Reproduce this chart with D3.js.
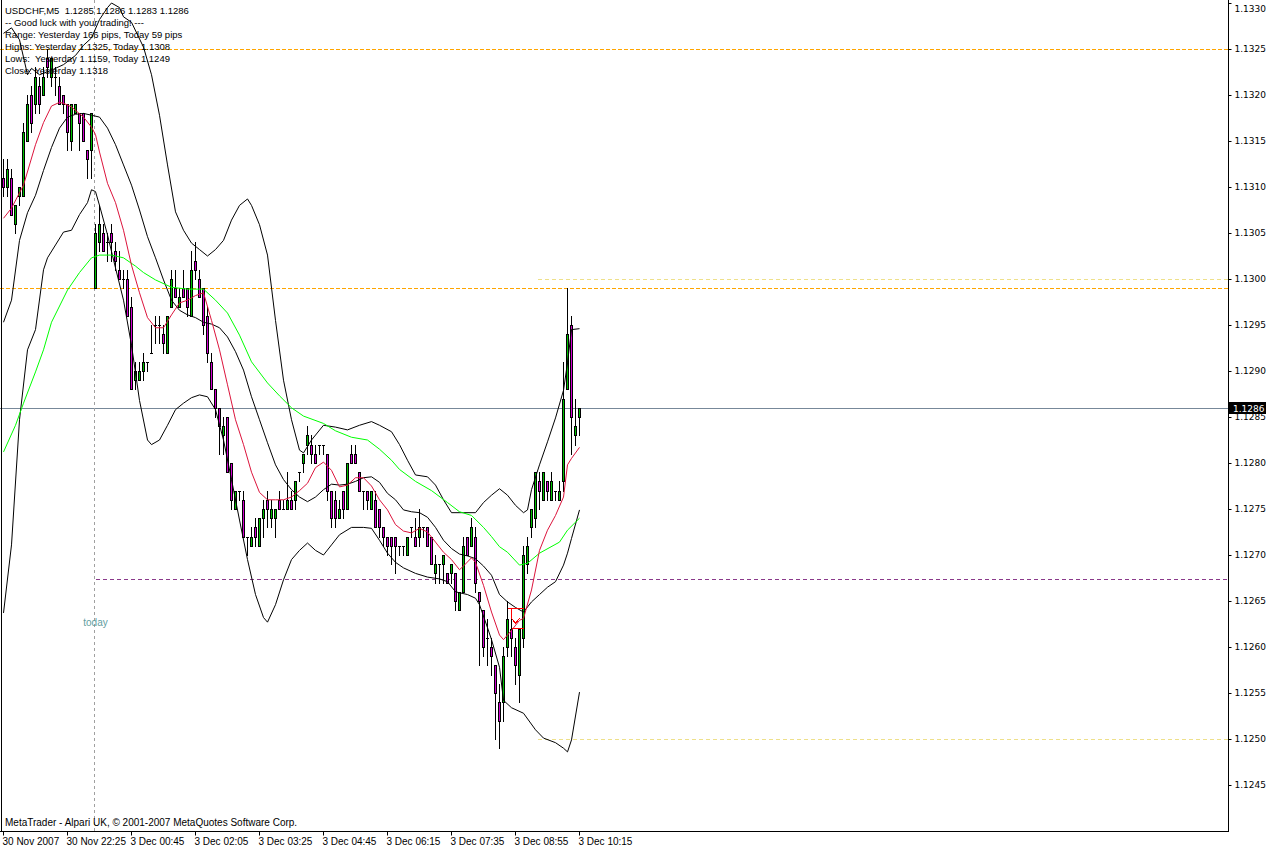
<!DOCTYPE html>
<html><head><meta charset="utf-8">
<script src="https://cdn.jsdelivr.net/npm/d3@7"></script>
<style>
body{margin:0;background:#fff;}
svg{display:block;font-family:"Liberation Sans",Arial,sans-serif;}
</style></head><body>
<svg id="c" width="1266" height="848"></svg>
<script>
// ---------- DATA ----------
const symbolTitle = "USDCHF,M5  1.1285 1.1286 1.1283 1.1286";
const infoLines = [
  "-- Good luck with your trading! ---",
  "Range: Yesterday 166 pips, Today 59 pips",
  "Highs: Yesterday 1.1325, Today 1.1308",
  "Lows:  Yesterday 1.1159, Today 1.1249",
  "Close: Yesterday 1.1318"
];
const footerText = "MetaTrader - Alpari UK, \u00a9 2001-2007 MetaQuotes Software Corp.";
const timeLabels = ["30 Nov 2007","30 Nov 22:25","3 Dec 00:45","3 Dec 02:05","3 Dec 03:25","3 Dec 04:45","3 Dec 06:15","3 Dec 07:35","3 Dec 08:55","3 Dec 10:15"];
const timeLabelBars = [0,16,32,48,64,80,96,112,128,144];
const priceTicks = [1.1330,1.1325,1.1320,1.1315,1.1310,1.1305,1.1300,1.1295,1.1290,1.1285,1.1280,1.1275,1.1270,1.1265,1.1260,1.1255,1.1250,1.1245];

const opens = [1.1311,1.1310,1.1311,1.1306,1.1309,1.1309,1.1315,1.1320,1.1319,1.1321,1.1320,1.1324,1.1322,1.1322,1.1321,1.1320,1.1319,1.1315,1.1318,1.1318,1.1318,1.1314,1.1314,
1.1299,1.1304,1.1305,1.1304,1.1305,1.1303,1.1301,1.1300,1.1300,1.1297,1.1289,1.1289,1.1290,1.1291,1.1292,1.1295,1.1295,1.1294,1.1292,1.1297,1.1299,1.1297,1.1299,1.1299,1.1296,1.1302,1.1300,1.1299,1.1296,
1.1291,1.1288,1.1286,1.1283,1.1285,1.1280,1.1275,1.1277,1.1276,1.1272,1.1271,1.1273,1.1271,1.1274,1.1276,1.1274,1.1274,1.1276,1.1275,1.1275,1.1276,1.1276,1.1279,
1.1280,1.1282,1.1282,1.1281,1.1282,1.1282,1.1281,1.1277,1.1276,1.1274,1.1277,1.1275,1.1281,1.1281,1.1279,1.1277,1.1277,1.1275,1.1276,1.1275,1.1273,1.1272,1.1272,1.1272,
1.1271,1.1271,1.1270,1.1273,1.1272,1.1272,1.1273,1.1273,1.1272,1.1268,1.1269,1.1269,1.1268,1.1268,1.1268,1.1264,1.1266,1.1272,1.1271,1.1272,1.1266,1.1264,1.1261,1.1260,1.1258,1.1254,
1.1254,1.1260,1.1262,1.1260,1.1257,1.1261,1.1269,1.1273,1.1274,1.1278,1.1276,1.1278,1.1276,1.1277,1.1276,1.1278,1.1288,1.1295,1.1283,1.1285];
const highs = [1.1313,1.1313,1.1312,1.1308,1.1310,1.1317,1.1320,1.1321,1.1323,1.1322,1.1323,1.1325,1.1324,1.1323,1.1322,1.1320,1.1319,1.1319,1.1319,1.1318,1.1318,1.1314,1.1318,
1.1306,1.1308,1.1306,1.1305,1.1306,1.1304,1.1303,1.1301,1.1301,1.1298,1.1291,1.1291,1.1292,1.1291,1.1295,1.1296,1.1296,1.1295,1.1296,1.1301,1.1301,1.1299,1.1301,1.1299,1.1303,1.1304,1.1301,1.1299,1.1297,
1.1292,1.1288,1.1286,1.1285,1.1285,1.1280,1.1277,1.1277,1.1277,1.1272,1.1273,1.1274,1.1274,1.1276,1.1277,1.1276,1.1275,1.1277,1.1276,1.1279,1.1277,1.1278,1.1279,
1.1281,1.1284,1.1283,1.1282,1.1282,1.1282,1.1281,1.1277,1.1277,1.1276,1.1277,1.1280,1.1282,1.1282,1.1279,1.1277,1.1277,1.1277,1.1277,1.1275,1.1273,1.1272,1.1272,1.1272,
1.1271,1.1271,1.1272,1.1273,1.1274,1.1275,1.1273,1.1273,1.1272,1.1270,1.1269,1.1270,1.1268,1.1269,1.1268,1.1266,1.1272,1.1272,1.1274,1.1273,1.1266,1.1264,1.1263,1.1261,1.1258,1.1256,
1.1260,1.1265,1.1263,1.1261,1.1262,1.1271,1.1272,1.1275,1.1279,1.1279,1.1279,1.1278,1.1279,1.1277,1.1278,1.1291,1.1299,1.1296,1.1287,1.1286];
const lows = [1.1309,1.1309,1.1307,1.1305,1.1308,1.1309,1.1315,1.1316,1.1318,1.1318,1.1320,1.1322,1.1321,1.1320,1.1319,1.1318,1.1314,1.1314,1.1318,1.1314,1.1315,1.1311,1.1311,
1.1299,1.1303,1.1303,1.1302,1.1302,1.1301,1.1300,1.1299,1.1296,1.1288,1.1288,1.1289,1.1289,1.1290,1.1292,1.1293,1.1293,1.1292,1.1292,1.1297,1.1298,1.1297,1.1298,1.1296,1.1296,1.1300,1.1298,1.1294,1.1291,
1.1288,1.1285,1.1281,1.1281,1.1279,1.1275,1.1275,1.1276,1.1272,1.1270,1.1271,1.1271,1.1271,1.1272,1.1273,1.1273,1.1272,1.1275,1.1275,1.1275,1.1275,1.1275,1.1278,
1.1279,1.1281,1.1280,1.1280,1.1281,1.1281,1.1276,1.1273,1.1273,1.1274,1.1274,1.1275,1.1280,1.1280,1.1277,1.1275,1.1275,1.1275,1.1273,1.1272,1.1271,1.1270,1.1269,1.1268,
1.1270,1.1270,1.1270,1.1272,1.1271,1.1271,1.1272,1.1271,1.1269,1.1267,1.1267,1.1267,1.1267,1.1267,1.1264,1.1264,1.1266,1.1270,1.1271,1.1266,1.1258,1.1259,1.1258,1.1257,1.1250,1.1249,
1.1252,1.1259,1.1259,1.1256,1.1254,1.1260,1.1268,1.1272,1.1273,1.1275,1.1276,1.1276,1.1276,1.1276,1.1276,1.1277,1.1288,1.1281,1.1282,1.1283];
const closes = [1.1310,1.1312,1.1307,1.1308,1.1310,1.1316,1.1319,1.1317,1.1322,1.1319,1.1322,1.1323,1.1324,1.1322,1.1319,1.1319,1.1316,1.1319,1.1319,1.1317,1.1315,1.1313,1.1318,
1.1305,1.1306,1.1303,1.1304,1.1304,1.1302,1.1300,1.1300,1.1296,1.1288,1.1290,1.1290,1.1291,1.1291,1.1292,1.1295,1.1295,1.1293,1.1296,1.1300,1.1298,1.1298,1.1298,1.1297,1.1301,1.1301,1.1298,1.1295,1.1292,
1.1288,1.1286,1.1284,1.1284,1.1279,1.1276,1.1277,1.1277,1.1272,1.1272,1.1272,1.1272,1.1274,1.1275,1.1275,1.1275,1.1275,1.1275,1.1275,1.1276,1.1275,1.1278,1.1279,
1.1281,1.1283,1.1281,1.1280,1.1282,1.1282,1.1277,1.1274,1.1274,1.1275,1.1275,1.1280,1.1280,1.1280,1.1277,1.1277,1.1276,1.1277,1.1273,1.1273,1.1272,1.1271,1.1271,1.1271,
1.1271,1.1271,1.1272,1.1273,1.1271,1.1273,1.1273,1.1271,1.1269,1.1269,1.1269,1.1270,1.1267,1.1269,1.1265,1.1266,1.1271,1.1270,1.1273,1.1267,1.1265,1.1260,1.1261,1.1259,1.1255,1.1252,
1.1259,1.1263,1.1261,1.1258,1.1262,1.1270,1.1271,1.1275,1.1279,1.1277,1.1279,1.1277,1.1278,1.1277,1.1277,1.1287,1.1294,1.1285,1.1284,1.1286];

// indicator lines: [bar index, price]
const bandUpper = [[0,1.13267],[2,1.13273],[4,1.13260],[6,1.13222],[7,1.13229],[9,1.13222],[12,1.13227],[15,1.13233],[18,1.13243],[20,1.13254],[22,1.13262],[24,1.13282],[26,1.13295],[27,1.13300],[29,1.13295],[30,1.13285],[32,1.13279],[35,1.13252],[37,1.13222],[39,1.13178],[41,1.13124],[43,1.13073],[45,1.13053],[47,1.13039],[49,1.13032],[51,1.13025],[53,1.13032],[55,1.13042],[57,1.13064],[59,1.13080],[61,1.13087],[62,1.13080],[64,1.13059],[66,1.13026],[68,1.12955],[70,1.12890],[72,1.12847],[74,1.12814],[75,1.12811],[77,1.12825],[80,1.12841],[83,1.12839],[86,1.12836],[89,1.12841],[92,1.12845],[94,1.12841],[97,1.12834],[99,1.12820],[101,1.12803],[103,1.12787],[106,1.12785],[108,1.12776],[110,1.12760],[112,1.12746],[115,1.12746],[118,1.12746],[120,1.12757],[122,1.12765],[124,1.12772],[126,1.12765],[128,1.12754],[130,1.12746],[131,1.12749],[132,1.12771],[134,1.12798],[136,1.12823],[138,1.12849],[140,1.12879],[141,1.12909],[142,1.12945],[144,1.12946]];
const bandMiddle = [[0,1.12953],[2,1.12977],[4,1.13042],[6,1.13072],[8,1.13091],[10,1.13118],[12,1.13143],[14,1.13164],[16,1.13176],[18,1.13179],[20,1.13180],[22,1.13178],[24,1.13176],[26,1.13164],[28,1.13146],[30,1.13124],[32,1.13102],[34,1.13075],[36,1.13046],[38,1.13023],[40,1.12999],[42,1.12977],[44,1.12966],[46,1.12961],[48,1.12958],[50,1.12953],[52,1.12951],[54,1.12947],[56,1.12937],[58,1.12921],[60,1.12901],[62,1.12872],[64,1.12847],[66,1.12822],[68,1.12798],[70,1.12782],[72,1.12771],[74,1.12763],[76,1.12758],[78,1.12763],[80,1.12771],[82,1.12777],[84,1.12776],[86,1.12777],[88,1.12780],[90,1.12784],[92,1.12785],[94,1.12779],[96,1.12767],[98,1.12760],[100,1.12749],[102,1.12747],[104,1.12746],[106,1.12741],[108,1.12730],[110,1.12716],[112,1.12707],[114,1.12701],[116,1.12699],[118,1.12696],[120,1.12688],[122,1.12678],[124,1.12657],[126,1.12649],[128,1.12643],[130,1.12638],[132,1.12649],[134,1.12657],[136,1.12665],[138,1.12671],[140,1.12689],[141,1.12702],[142,1.12718],[144,1.12749]];
const bandLower = [[0,1.12637],[2,1.12711],[4,1.12847],[6,1.12923],[8,1.12945],[10,1.13010],[11,1.13023],[13,1.13037],[15,1.13051],[17,1.13053],[19,1.13070],[21,1.13083],[22,1.13097],[23,1.13095],[24,1.13080],[26,1.13048],[28,1.13012],[30,1.12977],[32,1.12928],[34,1.12868],[36,1.12825],[37,1.12820],[39,1.12825],[41,1.12841],[43,1.12858],[45,1.12865],[47,1.12871],[49,1.12874],[51,1.12872],[53,1.12858],[55,1.12825],[57,1.12782],[59,1.12738],[61,1.12695],[63,1.12657],[65,1.12632],[66,1.12627],[68,1.12646],[70,1.12673],[72,1.12695],[74,1.12705],[76,1.12713],[78,1.12705],[80,1.12700],[82,1.12711],[84,1.12722],[87,1.12730],[90,1.12730],[92,1.12729],[94,1.12716],[96,1.12702],[98,1.12692],[100,1.12686],[103,1.12680],[106,1.12676],[109,1.12674],[111,1.12671],[113,1.12660],[116,1.12657],[118,1.12653],[119,1.12646],[121,1.12621],[122,1.12608],[124,1.12578],[125,1.12542],[127,1.12534],[130,1.12528],[133,1.12510],[135,1.12501],[138,1.12496],[140,1.12490],[141,1.12486],[142,1.12499],[144,1.12551]];
const fastMA = [[0,1.13066],[2,1.13077],[5,1.13102],[8,1.13146],[10,1.13170],[12,1.13188],[14,1.13192],[15,1.13191],[17,1.13187],[20,1.13176],[22,1.13165],[23,1.13157],[24,1.13138],[26,1.13104],[28,1.13083],[30,1.13053],[32,1.13015],[34,1.12985],[36,1.12958],[38,1.12947],[40,1.12947],[42,1.12961],[44,1.12974],[46,1.12977],[48,1.12982],[50,1.12985],[52,1.12955],[54,1.12923],[56,1.12885],[58,1.12847],[60,1.12820],[62,1.12790],[64,1.12768],[66,1.12760],[68,1.12760],[70,1.12760],[72,1.12763],[74,1.12770],[76,1.12778],[78,1.12795],[80,1.12801],[82,1.12792],[84,1.12774],[86,1.12776],[88,1.12784],[90,1.12784],[92,1.12775],[94,1.12760],[96,1.12749],[98,1.12733],[100,1.12726],[102,1.12724],[104,1.12729],[106,1.12725],[108,1.12714],[110,1.12703],[112,1.12695],[114,1.12684],[115,1.12688],[117,1.12697],[118,1.12692],[120,1.12667],[122,1.12638],[124,1.12613],[125,1.12608],[127,1.12618],[129,1.12629],[130,1.12631],[132,1.12662],[134,1.12705],[136,1.12727],[138,1.12743],[140,1.12763],[141,1.12798],[142,1.12805],[144,1.12817]];
const slowMA = [[0,1.12812],[3,1.12841],[5,1.12865],[8,1.12899],[10,1.12923],[12,1.12953],[16,1.12988],[19,1.13007],[22,1.13023],[24,1.13026],[27,1.13026],[30,1.13023],[33,1.13014],[35,1.13007],[38,1.12999],[42,1.12991],[46,1.12989],[50,1.12989],[53,1.12977],[56,1.12963],[59,1.12939],[62,1.12910],[66,1.12887],[69,1.12873],[72,1.12860],[75,1.12851],[80,1.12843],[83,1.12835],[87,1.12828],[91,1.12825],[94,1.12815],[97,1.12803],[99,1.12793],[103,1.12780],[107,1.12770],[111,1.12757],[114,1.12747],[117,1.12743],[120,1.12730],[122,1.12720],[124,1.12709],[126,1.12703],[129,1.12689],[131,1.12691],[134,1.12702],[139,1.12714],[141,1.12727],[144,1.12740]];
const redMarks = [[[126,1.12642],[130,1.12642]],[[127,1.12642],[127,1.12631],[128,1.12626],[129,1.12631]],[[127,1.12620],[130,1.12620]]];

// level lines
const yesterdayHigh = 1.1325, todayOpen = 1.1299, pivotLevel = 1.12674, roundHigh = 1.1300, roundLow = 1.1250, bidPrice = 1.1286;
const todayBar = 23;

// ---------- DRAW ----------
const svg = d3.select("#c");
const plotR = 1228, plotB = 831;
const y = d3.scaleLinear().domain([1.1330, 1.1240]).range([3, 831]);
const x = d3.scaleLinear().domain([0, 144]).range([3, 579]);
const px = v => Math.round(x(v)) + 0.5;
const py = v => Math.round(y(v)) + 0.5;

svg.append("rect").attr("width",1266).attr("height",848).attr("fill","#fff");
svg.append("clipPath").attr("id","clip").append("rect").attr("x",0).attr("y",0).attr("width",plotR).attr("height",plotB);
const plot = svg.append("g").attr("clip-path","url(#clip)");

function hline(p, x0, color, dash){
  plot.append("line").attr("x1",x0).attr("x2",plotR).attr("y1",py(p)).attr("y2",py(p))
    .attr("stroke",color).attr("stroke-width",1).attr("stroke-dasharray",dash||null).attr("shape-rendering","crispEdges");
}
hline(yesterdayHigh, 0, "#FFA500", "4,2");
hline(todayOpen, 0, "#FFA500", "4,2");
hline(roundHigh, x(134)-1, "#EEE08A", "4,3");
hline(roundLow, x(134)-1, "#EEE08A", "4,3");
hline(pivotLevel, px(todayBar), "#8B3A8B", "4,3");
hline(bidPrice, 0, "#778899", null);

// today separator
plot.append("line").attr("x1",px(todayBar)-1).attr("x2",px(todayBar)-1).attr("y1",0).attr("y2",plotB)
  .attr("stroke","#A0A0A0").attr("stroke-dasharray","3,3").attr("shape-rendering","crispEdges");

// candles
const bars = opens.map((o,i)=>({i,o,h:highs[i],l:lows[i],c:closes[i]}));
const cg = plot.append("g").attr("shape-rendering","crispEdges");
bars.forEach(b=>{
  const cx = px(b.i);
  cg.append("line").attr("x1",cx).attr("x2",cx).attr("y1",Math.round(y(b.h))).attr("y2",Math.round(y(b.l))+1).attr("stroke","#000");
  const top = Math.round(y(Math.max(b.o,b.c))), bot = Math.round(y(Math.min(b.o,b.c)));
  if (bot - top < 1) {
    cg.append("line").attr("x1",cx-1.5).attr("x2",cx+1.5).attr("y1",top+0.5).attr("y2",top+0.5).attr("stroke","#000");
  } else {
    cg.append("rect").attr("x",cx-1).attr("y",top+0.5).attr("width",2).attr("height",bot-top)
      .attr("fill", b.c>b.o ? "#00C000" : "#D000D0").attr("stroke","#000").attr("stroke-width",1);
  }
});

// indicator lines
const line = d3.line().x(d=>x(d[0])+0.5).y(d=>y(d[1]));
[[bandUpper,"#000"],[bandMiddle,"#000"],[bandLower,"#000"],[slowMA,"#00FF00"],[fastMA,"#DC143C"]].forEach(([data,col])=>{
  plot.append("path").attr("d",line(data)).attr("fill","none").attr("stroke",col).attr("stroke-width",1);
});
redMarks.forEach(seg=>{
  plot.append("path").attr("d",line(seg)).attr("fill","none").attr("stroke","#FF0000").attr("stroke-width",1).attr("shape-rendering","crispEdges");
});

// left frame
svg.append("line").attr("x1",1.5).attr("x2",1.5).attr("y1",0).attr("y2",plotB).attr("stroke","#000");

// right axis
const ay = svg.append("g").attr("transform",`translate(${plotR+0.5},0)`)
  .call(d3.axisRight(y).tickValues(priceTicks).tickFormat(d3.format(".4f")).tickSize(3).tickPadding(3));
ay.select(".domain").attr("d",`M0,0V${plotB+0.5}`).attr("stroke","#000");
ay.selectAll(".tick line").attr("stroke","#000");
ay.selectAll(".tick text").attr("font-family","'DejaVu Sans',sans-serif").attr("font-size","9px").attr("fill","#000");
ay.selectAll(".tick").attr("transform",d=>`translate(0,${py(d)})`);
ay.selectAll(".tick text").filter(d=>d===priceTicks[0]).attr("dy","0.9em");

// bottom axis
const ax = svg.append("g").attr("transform",`translate(0,${plotB+0.5})`)
  .call(d3.axisBottom(x).tickValues(timeLabelBars).tickFormat((d,k)=>timeLabels[k]).tickSize(4).tickPadding(2));
ax.select(".domain").attr("d",`M0,0H${plotR+1}`).attr("stroke","#000");
ax.selectAll(".tick").attr("transform",d=>`translate(${px(d)},0)`);
ax.selectAll(".tick line").attr("stroke","#000");
ax.selectAll(".tick text").attr("text-anchor","start").attr("x",-1).attr("font-family","'Liberation Sans',Arial,sans-serif").attr("font-size","10px").attr("fill","#000");

// current price tag
const tagY = py(bidPrice);
svg.append("rect").attr("x",plotR+1).attr("y",tagY-6.5).attr("width",37).attr("height",12).attr("fill","#000");
svg.append("text").attr("x",plotR+5).attr("y",tagY+3.5).attr("fill","#fff").attr("font-family","'DejaVu Sans',sans-serif").attr("font-size","9px").text(d3.format(".4f")(bidPrice));

// header texts
const tg = svg.append("g").attr("font-size","9.5px").attr("fill","#000");
tg.append("text").attr("x",5).attr("y",14).style("white-space","pre").text(symbolTitle);
infoLines.forEach((t,k)=>tg.append("text").attr("x",5).attr("y",26+12*k).style("white-space","pre").text(t));

// today label
svg.append("text").attr("x",px(todayBar)).attr("y",626).attr("text-anchor","middle").attr("font-size","10px").attr("fill","#5F9EA0").text("today");

// footer
svg.append("text").attr("x",5).attr("y",826).attr("font-size","10px").attr("fill","#000").text(footerText);
</script>
</body></html>
